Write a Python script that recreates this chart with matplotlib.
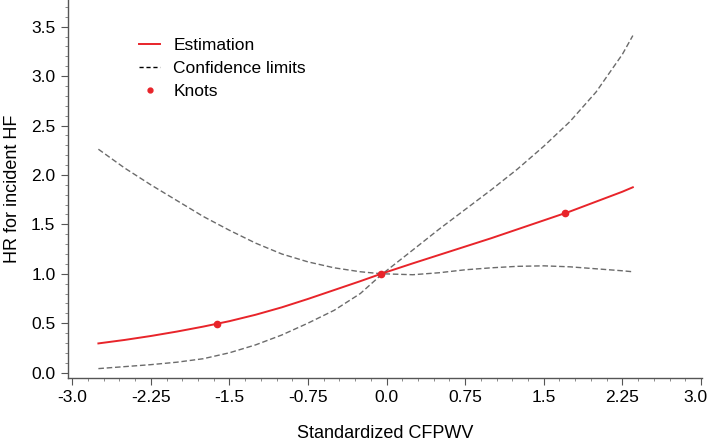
import matplotlib
matplotlib.use('Agg')
import matplotlib.pyplot as plt
from matplotlib.ticker import MultipleLocator, FixedLocator
from matplotlib.lines import Line2D
from matplotlib.transforms import ScaledTranslation

plt.rcParams['font.family'] = ['Liberation Sans', 'DejaVu Sans']

# standardized CFPWV grid used for the curves
cfpwv = [-2.75, -2.5, -2.25, -2.0, -1.75, -1.5, -1.25, -1.0, -0.75, -0.5, -0.25, -0.05,
         0.25, 0.5, 0.75, 1.0, 1.25, 1.5, 1.75, 2.0, 2.25, 2.35]
# estimated HR
estimation = [0.295, 0.33, 0.37, 0.415, 0.465, 0.52, 0.585, 0.66, 0.745, 0.835, 0.925, 1.0,
              1.105, 1.19, 1.275, 1.36, 1.45, 1.54, 1.63, 1.73, 1.83, 1.875]
# confidence limits (they cross at the reference point)
limit_a = [2.26, 2.07, 1.90, 1.74, 1.58, 1.44, 1.31, 1.20, 1.12, 1.06, 1.02, 1.0,
           0.99, 1.01, 1.04, 1.06, 1.075, 1.08, 1.07, 1.05, 1.03, 1.02]
limit_b = [0.04, 0.06, 0.08, 0.105, 0.14, 0.20, 0.28, 0.38, 0.50, 0.63, 0.80, 0.99,
           1.24, 1.45, 1.65, 1.85, 2.06, 2.29, 2.54, 2.84, 3.22, 3.41]
# knots
knot_x = [-1.62, -0.05, 1.70]
knot_y = [0.49, 1.0, 1.61]

xticks = [-3.0, -2.25, -1.5, -0.75, 0.0, 0.75, 1.5, 2.25, 3.0]
xticklabels = ['-3.0', '-2.25', '-1.5', '-0.75', '0.0', '0.75', '1.5', '2.25', '3.0']
yticks = [0.0, 0.5, 1.0, 1.5, 2.0, 2.5, 3.0, 3.5]

red = '#e8242a'
gray = '#6b6b6b'

fig = plt.figure(figsize=(7.09, 4.45), dpi=100)
ax = fig.add_axes([68 / 709, 1 - 378 / 445, 634 / 709, 378 / 445])

ax.plot(cfpwv, limit_a, color=gray, lw=1.0, ls=(0, (4, 2)))
ax.plot(cfpwv, limit_b, color=gray, lw=1.0, ls=(0, (4, 2)))
ax.plot(cfpwv, estimation, color=red, lw=1.4)
ax.plot(knot_x, knot_y, 'o', color=red, ms=4.5)

ax.set_xlim(-3.04, 3.01)
ax.set_ylim(-0.055, 3.77)
ax.xaxis.set_major_locator(FixedLocator(xticks))
ax.set_xticklabels(xticklabels)
ax.xaxis.set_minor_locator(MultipleLocator(0.15))
ax.set_yticks(yticks)
ax.set_yticklabels(['%.1f' % v for v in yticks])
ax.yaxis.set_minor_locator(MultipleLocator(0.1))

for s in ['top', 'right']:
    ax.spines[s].set_visible(False)
for s in ['left', 'bottom']:
    ax.spines[s].set_color('#555555')
    ax.spines[s].set_linewidth(1.0)
ax.tick_params(which='major', direction='out', length=5, color='#555555', labelsize=12.5, pad=4)
ax.tick_params(which='minor', direction='out', length=2.5, color='#777777')

# last x label sits a bit left so it stays inside the figure
last = ax.get_xticklabels()[-1]
last.set_transform(last.get_transform() + ScaledTranslation(-6 / 100, 0, fig.dpi_scale_trans))

ax.set_xlabel('Standardized CFPWV', fontsize=13, labelpad=14)
ax.set_ylabel('HR for incident HF', fontsize=13, labelpad=7)

handles = [Line2D([], [], color=red, lw=1.4),
           Line2D([], [], color='black', lw=1.0, ls=(0, (3, 2))),
           Line2D([], [], color=red, marker='o', ms=3.5, ls='none')]
ax.legend(handles, ['Estimation', 'Confidence limits', 'Knots'], loc='upper left',
          bbox_to_anchor=(0.088, 0.94), frameon=False, fontsize=12.5,
          handlelength=1.2, handletextpad=0.75, labelspacing=0.45)

fig.savefig('out.png', dpi=100)
